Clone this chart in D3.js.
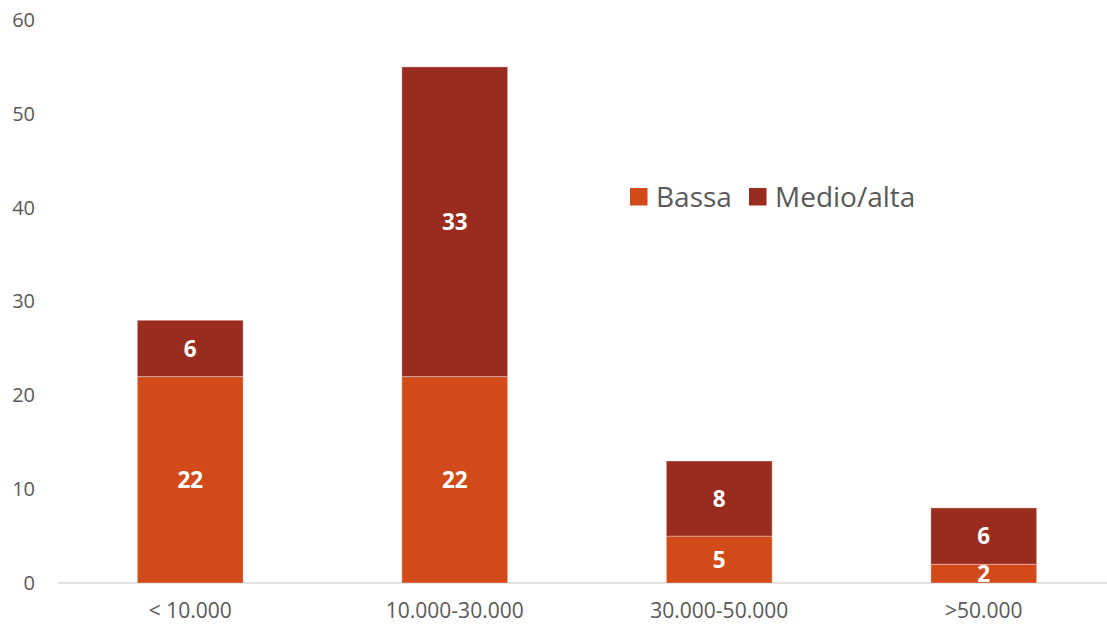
<!DOCTYPE html>
<html>
<head>
<meta charset="utf-8">
<script src="https://cdn.jsdelivr.net/npm/d3@7"></script>
<style>
  html, body { margin: 0; padding: 0; background: #fff; }
  svg { display: block; font-family: "Open Sans", Lato, sans-serif; }
</style>
</head>
<body>
<svg id="chart" width="1107" height="627"></svg>
<script>
// Number of cases by population class, split by Bassa / Medio/alta
const categories = ["< 10.000", "10.000-30.000", "30.000-50.000", ">50.000"];
const bassa = [22, 22, 5, 2];
const medioAlta = [6, 33, 8, 6];
const seriesNames = ["Bassa", "Medio/alta"];
const yTicks = [0, 10, 20, 30, 40, 50, 60];

const colors = { "Bassa": "#D24A19", "Medio/alta": "#992B1F" };
const FONT = "'Open Sans', Lato, sans-serif";

const svg = d3.select("#chart");
const margin = { left: 58, right: -9, top: 20, bottom: 44 };
const W = 1107, H = 627;

const x = d3.scaleBand()
  .domain(categories)
  .range([margin.left, W - margin.right])
  .paddingInner(0.6)
  .paddingOuter(0.3);

const y = d3.scaleLinear()
  .domain([0, 60])
  .range([H - margin.bottom, margin.top]);

const rows = categories.map((c, i) => ({ cat: c, "Bassa": bassa[i], "Medio/alta": medioAlta[i] }));
const stacked = d3.stack().keys(seriesNames)(rows);

// y axis labels (no line, no ticks)
const yAxis = d3.axisLeft(y).tickValues(yTicks).tickSize(0).tickPadding(0);
const yg = svg.append("g").attr("transform", "translate(35,0)").call(yAxis);
yg.select(".domain").remove();
yg.selectAll("text").attr("fill", "#595959").style("font-size", "20px").style("font-family", FONT);

// baseline
svg.append("line")
  .attr("x1", margin.left).attr("x2", W)
  .attr("y1", y(0)).attr("y2", y(0))
  .attr("stroke", "#D9D9D9").attr("stroke-width", 1.3);

// x axis labels
const xAxis = d3.axisBottom(x).tickSize(0).tickPadding(0);
const xg = svg.append("g").attr("transform", `translate(0,${y(0) + 20})`).call(xAxis);
xg.select(".domain").remove();
xg.selectAll("text").attr("fill", "#595959").style("font-size", "21px").style("font-family", FONT);

// stacked bars
const layers = svg.append("g").selectAll("g")
  .data(stacked).join("g")
  .attr("fill", d => colors[d.key]);

layers.selectAll("rect")
  .data(d => d)
  .join("rect")
  .attr("x", d => x(d.data.cat))
  .attr("width", x.bandwidth())
  .attr("y", d => y(d[1]))
  .attr("height", d => y(d[0]) - y(d[1]))
  .attr("stroke", "rgba(255,255,255,0.35)")
  .attr("stroke-width", 1);

// value labels
layers.selectAll("text")
  .data(d => d)
  .join("text")
  .attr("x", d => x(d.data.cat) + x.bandwidth() / 2)
  .attr("y", d => (y(d[0]) + y(d[1])) / 2)
  .attr("dy", "0.36em")
  .attr("text-anchor", "middle")
  .attr("fill", "#fff")
  .style("font-weight", "bold")
  .style("font-size", "22.5px")
  .text(d => d[1] - d[0]);

// legend
const legend = svg.append("g").attr("transform", "translate(630,197)");
const legendX = [0, 119];
seriesNames.forEach((s, i) => {
  const g = legend.append("g").attr("transform", `translate(${legendX[i]},0)`);
  g.append("rect").attr("x", 0).attr("y", -9).attr("width", 17.5).attr("height", 17.5).attr("fill", colors[s]);
  g.append("text").attr("x", 26).attr("y", 0).attr("dy", "0.36em")
    .attr("fill", "#595959").style("font-size", "28px").text(s);
});
</script>
</body>
</html>
